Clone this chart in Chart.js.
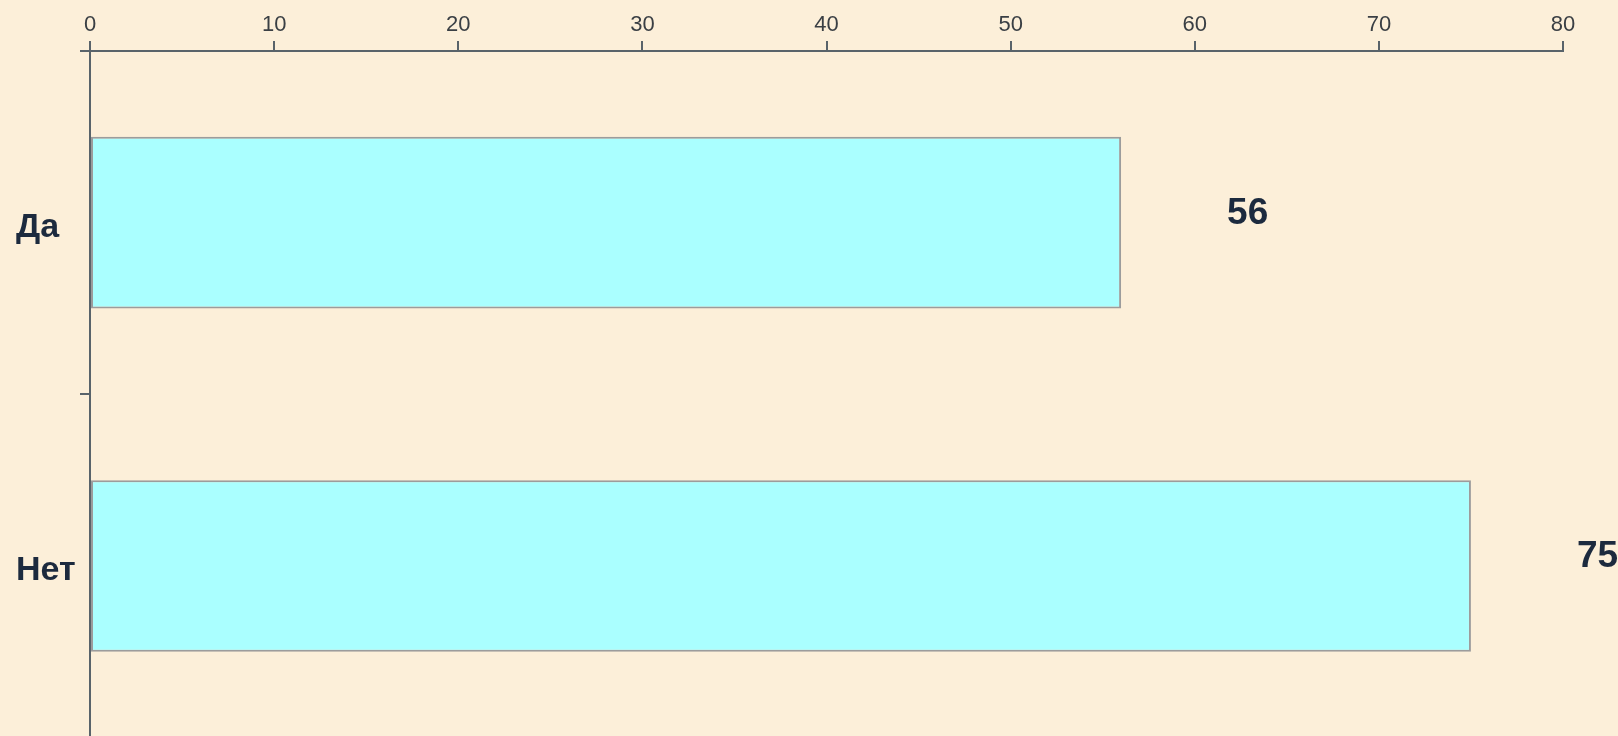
<!DOCTYPE html>
<html>
<head>
<meta charset="utf-8">
<script src="https://cdn.jsdelivr.net/npm/chart.js@4"></script>
<style>
  html, body { margin: 0; padding: 0; overflow: hidden; background: #fcefd9; }
  #wrap { position: relative; width: 1618px; height: 761px; }
</style>
</head>
<body>
<div id="wrap"><canvas id="chart"></canvas></div>
<script>
  // chart data
  const categories = ['Да', 'Нет'];
  const answers = [56, 75];
  const axisMin = 0;
  const axisMax = 80;
  const axisStep = 10;

  const textColor = '#1c2a3e';
  const axisColor = '#59636a';

  // value labels to the right of each bar
  const valueLabels = {
    id: 'valueLabels',
    afterDatasetsDraw(chart) {
      const ctx = chart.ctx;
      const meta = chart.getDatasetMeta(0);
      ctx.save();
      ctx.font = 'bold 37px "Liberation Sans", Arial, sans-serif';
      ctx.fillStyle = textColor;
      ctx.textAlign = 'left';
      ctx.textBaseline = 'middle';
      meta.data.forEach(function (bar, i) {
        ctx.fillText(String(answers[i]), bar.x + 106, bar.y - 9);
      });
      ctx.restore();
    }
  };

  new Chart(document.getElementById('chart'), {
    type: 'bar',
    data: {
      labels: categories,
      datasets: [{
        data: answers,
        backgroundColor: '#aaffff',
        borderColor: '#9c9c9c',
        borderWidth: 2,
        borderSkipped: false,
        barPercentage: 0.5,
        categoryPercentage: 1,
      }],
    },
    options: {
      indexAxis: 'y',
      responsive: true,
      maintainAspectRatio: false,
      animation: false,
      layout: { padding: { left: 16, right: 55, top: 0, bottom: 8 } },
      plugins: { legend: { display: false }, tooltip: { enabled: false } },
      scales: {
        x: {
          position: 'top',
          min: axisMin,
          max: axisMax,
          afterFit: function (scale) { scale.height = 51; },
          ticks: {
            stepSize: axisStep,
            color: '#3a3f44',
            padding: 3,
            font: { family: '"Liberation Sans", Arial, sans-serif', size: 22 },
          },
          grid: {
            drawOnChartArea: false,
            drawTicks: true,
            tickLength: 10,
            color: axisColor,
            lineWidth: 2,
          },
          border: { color: axisColor, width: 2 },
        },
        y: {
          afterFit: function (scale) { scale.width = 74; },
          ticks: {
            crossAlign: 'far',
            labelOffset: 5,
            color: textColor,
            font: { family: '"Liberation Sans", Arial, sans-serif', size: 34, weight: 'bold' },
          },
          grid: {
            offset: true,
            drawOnChartArea: false,
            drawTicks: true,
            tickLength: 10,
            color: axisColor,
            lineWidth: 2,
          },
          border: { color: axisColor, width: 2 },
        },
      },
    },
    plugins: [valueLabels],
  });
</script>
</body>
</html>
